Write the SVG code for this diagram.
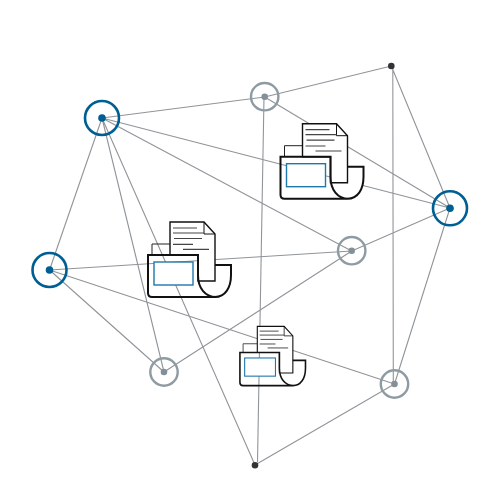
<svg xmlns="http://www.w3.org/2000/svg" width="500" height="500" viewBox="0 0 500 500">
<style>
.e{stroke:#909599;stroke-width:1.1;fill:none}
.blue circle:first-child{fill:none;stroke:#005f92;stroke-width:2.6}
.blue circle:last-child{fill:#005f92}
.gray circle:first-child{fill:none;stroke:#8f9ba3;stroke-width:2.4}
.gray circle:last-child{fill:#83909a}
.dark circle{fill:#333}
.ln{stroke:#444;stroke-width:1.2;fill:none}
</style>
<defs>
<g id="fax">
<path d="M198 265H231V275C231 288 225 297 215 297C205 297 198 288 198 275Z" fill="#fff"/>
<path d="M152 255V244H170" fill="none" stroke="#222" stroke-width="1"/>
<path d="M170 255V222H204L215 234V281H198V255Z" fill="#fff" stroke="#111" stroke-width="1.4"/>
<path d="M204 222V234H215" fill="none" stroke="#111" stroke-width="1"/>
<path d="M173 228H197M173 233H204M174 238.500H202M173 244.300H193M183 249.300H209" class="ln"/>
<path d="M215 265H231V275C231 288 225 297 215 297H152Q148 297 148 293V255H198V275C198 288 205 297 216 297" fill="none" stroke="#111" stroke-width="2"/>
<rect x="154" y="262" width="39" height="23" fill="#fff" stroke="#1f78ab" stroke-width="1.4"/>
</g>
</defs>
<g id="connectors">
<path class="e" d="M102 118L264.700 97M264.700 97L391.300 66M102 118L450 208M102 118L351.700 251M102 118L49.500 270M102 118L164 372M102 118L255 465M264.700 97L450 208M264 97L257.500 462M391.300 66L450 208M392.800 66L393.300 384M450 208L394.500 384M450 208L351.700 251M351.700 251L164 372M49.500 270L351.700 251M49.500 270L164 372M49.500 270L394.500 384M394.500 384L255 465"/>
</g>
<g id="fax1"><use href="#fax"/></g>
<g id="fax2"><use href="#fax" transform="translate(132.500 -98.300)"/></g>
<g id="fax3"><use href="#fax" transform="translate(123 151) scale(.79)"/></g>
<g id="n1" class="blue"><circle cx="102" cy="118" r="17"/><circle cx="102" cy="118" r="3.800"/></g>
<g id="n2" class="gray"><circle cx="264.700" cy="96.700" r="13.700"/><circle cx="264.700" cy="96.700" r="3.300"/></g>
<g id="n3" class="dark"><circle cx="391.300" cy="66" r="3.300"/></g>
<g id="n4" class="blue"><circle cx="450" cy="208.300" r="17"/><circle cx="450" cy="208.300" r="3.800"/></g>
<g id="n5" class="gray"><circle cx="351.700" cy="250.700" r="13.700"/><circle cx="351.700" cy="250.700" r="3.300"/></g>
<g id="n6" class="blue"><circle cx="49.500" cy="270" r="17"/><circle cx="49.500" cy="270" r="3.800"/></g>
<g id="n7" class="gray"><circle cx="164" cy="372" r="13.700"/><circle cx="164" cy="372" r="3.300"/></g>
<g id="n8" class="gray"><circle cx="394.500" cy="384" r="13.700"/><circle cx="394.500" cy="384" r="3.300"/></g>
<g id="n9" class="dark"><circle cx="255" cy="465.300" r="3.300"/></g>
</svg>
